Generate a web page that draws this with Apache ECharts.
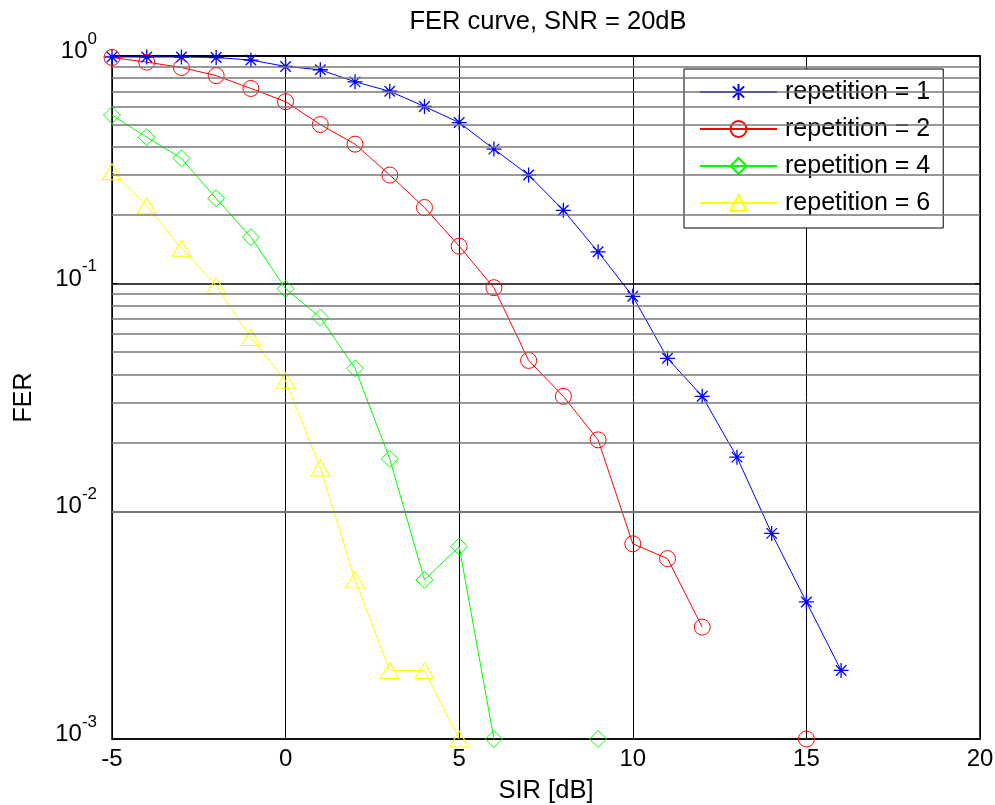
<!DOCTYPE html>
<html>
<head>
<meta charset="utf-8">
<script src="https://cdn.jsdelivr.net/npm/echarts@6/dist/echarts.min.js"></script>
<style>
html,body{margin:0;padding:0;background:#fff;}
#chart{width:995px;height:805px;}
</style>
</head>
<body>
<div id="chart"></div>
<script>
// ---- data ----
const sir = [-5,-4,-3,-2,-1,0,1,2,3,4,5,6,7,8,9,10,11,12,13,14,15,16];
const rep1 = [0.99,0.99,0.99,0.985,0.96,0.90,0.87,0.77,0.70,0.60,0.51,0.39,0.30,0.21,0.138,0.088,0.047,0.032,0.0173,0.0080,0.0040,0.0020];
const rep2 = [0.985,0.94,0.89,0.82,0.72,0.63,0.50,0.41,0.30,0.216,0.146,0.096,0.046,0.032,0.0206,0.0072,0.0062,0.0031,null,null,0.001,null];
const rep4 = [0.55,0.44,0.355,0.237,0.16,0.095,0.071,0.0425,0.017,0.005,0.007,0.001,null,null,0.001,null,null,null,null,null,null,null];
const rep6 = [0.31,0.22,0.143,0.098,0.058,0.0375,0.0155,0.005,0.002,0.002,0.001,null,null,null,null,null,null,null,null,null,null,null];
const seriesNames = ['repetition = 1','repetition = 2','repetition = 4','repetition = 6'];
const xTicks = [-5,0,5,10,15,20];
const yDecades = [0.001,0.01,0.1,1];
const minorMult = [2,3,4,5,6,7,8,9];

const minorLines = [];
yDecades.slice(0,3).forEach(d => minorMult.forEach(m => minorLines.push(+(d*m).toPrecision(3))));

function pairs(ys){ return sir.map((x,i)=>[x, ys[i]]); }

const FONT = '"Liberation Sans", Arial, Helvetica, sans-serif';
const asterisk = 'path://M0,-10L0,10M-10,0L10,0M-7,-7L7,7M-7,7L7,-7';

function mkSeries(name, ys, color, symbol, size, bw){
  return {
    name, type:'line', data: pairs(ys), z:3,
    symbol, symbolSize:size, showSymbol:true, showAllSymbol:true,
    connectNulls:false, clip:false, color,
    lineStyle:{color, width:1},
    itemStyle:{color:'rgba(0,0,0,0)', borderColor:color, borderWidth:bw || 1},
    emphasis:{disabled:true}, animation:false
  };
}

const chart = echarts.init(document.getElementById('chart'));
chart.setOption({
  animation:false,
  backgroundColor:'#fff',
  textStyle:{fontFamily:FONT},
  title:{text:'FER curve, SNR = 20dB', left:543, top:4, textAlign:'center',
    textStyle:{fontFamily:FONT, fontSize:25.5, fontWeight:'normal', color:'#000'}},
  grid:{left:112, right:15, top:56, bottom:66, outerBoundsMode:'none'},
  legend:{
    data:seriesNames, orient:'vertical', left:684, top:69,
    padding:[10,13,12,15], itemGap:11, itemWidth:77, itemHeight:20,
    backgroundColor:'#fff', borderColor:'#000', borderWidth:1,
    textStyle:{fontFamily:FONT, fontSize:25, color:'#000', lineHeight:26, padding:[0,0,0,3]},
    selectedMode:false
  },
  xAxis:[{
    type:'value', min:-5, max:20, interval:5, position:'bottom',
    name:'SIR [dB]', nameLocation:'middle', nameGap:39,
    nameTextStyle:{fontFamily:FONT, fontSize:25.5, color:'#000'},
    axisLine:{onZero:false, lineStyle:{color:'#000', width:1.5}},
    axisTick:{inside:true, length:5, lineStyle:{color:'#000'}},
    axisLabel:{fontFamily:FONT, fontSize:24, color:'#000', margin:8},
    splitLine:{show:true, lineStyle:{color:'#000', width:1}}
  },{
    type:'value', min:-5, max:20, interval:5, position:'top',
    axisLine:{onZero:false, lineStyle:{color:'#000', width:2}},
    axisTick:{inside:true, length:5, lineStyle:{color:'#000'}},
    axisLabel:{show:false}, splitLine:{show:false}
  }],
  yAxis:[{
    type:'log', logBase:10, min:0.001, max:1, position:'left',
    name:'FER', nameLocation:'middle', nameGap:75, nameRotate:90,
    nameTextStyle:{fontFamily:FONT, fontSize:25, color:'#000'},
    axisLine:{onZero:false, lineStyle:{color:'#000', width:1.5}},
    axisTick:{inside:true, length:5, lineStyle:{color:'#000'}},
    axisLabel:{
      margin:15, padding:[0,0,9,0],
      formatter: v => '{b|10}{s|' + Math.round(Math.log10(v)) + '}',
      rich:{
        b:{fontFamily:FONT, fontSize:24, lineHeight:24, color:'#000', verticalAlign:'bottom'},
        s:{fontFamily:FONT, fontSize:17, lineHeight:17, color:'#000', verticalAlign:'bottom', padding:[0,0,16,0]}
      }
    },
    splitLine:{show:true, lineStyle:{color:'#000', width:1.5}}
  },{
    type:'log', logBase:10, min:0.001, max:1, position:'right',
    axisLine:{onZero:false, lineStyle:{color:'#000', width:1.5}},
    axisTick:{inside:true, length:5, lineStyle:{color:'#000'}},
    axisLabel:{show:false}, splitLine:{show:false}
  }],
  series:[
    {
      name:'minor-grid', type:'line', data:[], z:1, silent:true,
      markLine:{
        silent:true, symbol:['none','none'], animation:false,
        label:{show:false},
        lineStyle:{color:'#777', width:1.6, type:'solid'},
        emphasis:{disabled:true},
        data: minorLines.map(v => ({yAxis:v}))
      }
    },
    mkSeries(seriesNames[0], rep1, '#0000ff', asterisk, 15, 1.3),
    mkSeries(seriesNames[1], rep2, '#ff0000', 'circle', 16),
    mkSeries(seriesNames[2], rep4, '#00ff00', 'diamond', 17),
    mkSeries(seriesNames[3], rep6, '#ffff00', 'triangle', [19,16])
  ]
});
</script>
</body>
</html>
